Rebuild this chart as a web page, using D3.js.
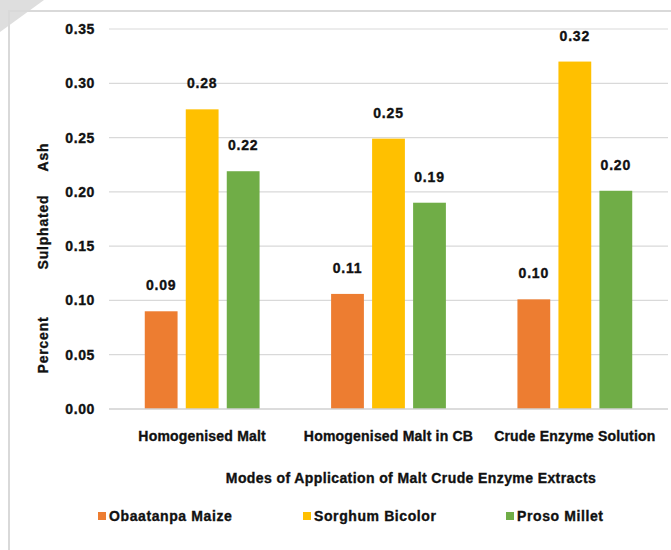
<!DOCTYPE html>
<html>
<head>
<meta charset="utf-8">
<script src="https://cdn.jsdelivr.net/npm/d3@7"></script>
<style>
  html, body { margin: 0; padding: 0; background: #fff; }
  svg text { font-family: "Liberation Sans", Arial, sans-serif; font-weight: bold; fill: #111; stroke: #111; stroke-width: 0.35px; }
</style>
</head>
<body>
<svg id="chart" width="671" height="550"></svg>
<script>
// Percent sulphated ash by mode of application of malt crude enzyme extracts
const categories = ["Homogenised Malt", "Homogenised Malt in CB", "Crude Enzyme Solution"];
const seriesNames = ["Obaatanpa Maize", "Sorghum Bicolor", "Proso Millet"];
const obaatanpaMaize = [0.09, 0.106, 0.101];
const sorghumBicolor = [0.276, 0.249, 0.32];
const prosoMillet = [0.219, 0.19, 0.201];
const yTicks = [0, 0.05, 0.10, 0.15, 0.20, 0.25, 0.30, 0.35];
const colors = ["#ED7D31", "#FFC000", "#70AD47"];

const seriesValues = [obaatanpaMaize, sorghumBicolor, prosoMillet];

const svg = d3.select("#chart");

// frame
svg.append("polygon").attr("points", "0,0 44,0 0,32").attr("fill", "#dedede");
svg.append("line").attr("x1", 9).attr("x2", 9).attr("y1", 10).attr("y2", 550)
  .attr("stroke", "#d9d9d9").attr("stroke-width", 2);
svg.append("line").attr("x1", 8).attr("x2", 671).attr("y1", 11).attr("y2", 11)
  .attr("stroke", "#d9d9d9").attr("stroke-width", 2);

const plot = { left: 109, right: 668, top: 29, bottom: 409 };

const x0 = d3.scaleBand().domain(categories).range([plot.left, plot.right]).padding(0);
const y = d3.scaleLinear().domain([0, 0.35]).range([plot.bottom, plot.top]);

// gridlines
svg.append("g").selectAll("line").data(yTicks.filter(t => t > 0)).join("line")
  .attr("x1", plot.left).attr("x2", plot.right)
  .attr("y1", d => y(d)).attr("y2", d => y(d))
  .attr("stroke", "#d9d9d9").attr("stroke-width", 1.2);

// y tick labels
svg.append("g").selectAll("text").data(yTicks).join("text")
  .attr("x", 95).attr("y", d => y(d) + 5)
  .attr("text-anchor", "end")
  .style("font-size", "14px")
  .style("letter-spacing", "0.6px")
  .text(d => d.toFixed(2));

// bars
const groups = svg.append("g").selectAll("g").data(categories).join("g");
groups.each(function(cat, ci) {
  const c = x0(cat) + x0.bandwidth() / 2;
  const x1 = d3.scaleBand().domain(seriesNames).range([c - 57.4, c + 57.4]).paddingInner(0.2).paddingOuter(0);
  const g = d3.select(this);
  seriesNames.forEach((s, si) => {
    const v = seriesValues[si][ci];
    g.append("rect")
      .attr("x", x1(s)).attr("width", x1.bandwidth())
      .attr("y", y(v)).attr("height", y(0) - y(v))
      .attr("fill", colors[si]);
    g.append("text")
      .attr("x", x1(s) + x1.bandwidth() / 2)
      .attr("y", y(v) - 21)
      .attr("text-anchor", "middle")
      .style("font-size", "14px")
      .style("letter-spacing", "0.8px")
      .text(v.toFixed(2));
  });
});

// baseline
svg.append("line").attr("x1", plot.left).attr("x2", plot.right)
  .attr("y1", y(0)).attr("y2", y(0))
  .attr("stroke", "#d0d0d0").attr("stroke-width", 1.5);

// category labels
svg.append("g").selectAll("text").data(categories).join("text")
  .attr("x", d => x0(d) + x0.bandwidth() / 2)
  .attr("y", 441)
  .attr("text-anchor", "middle")
  .style("font-size", "14px")
  .style("letter-spacing", "0.2px")
  .text(d => d);

// x axis title
svg.append("text")
  .attr("x", 411).attr("y", 483)
  .attr("text-anchor", "middle")
  .style("font-size", "14px")
  .style("letter-spacing", "0.4px")
  .text("Modes of Application of Malt Crude Enzyme Extracts");

// y axis title
const yTitle = [["Percent", 345], ["Sulphated", 232], ["Ash", 157]];
svg.append("g").selectAll("text").data(yTitle).join("text")
  .attr("transform", d => `translate(48,${d[1]}) rotate(-90)`)
  .attr("text-anchor", "middle")
  .style("font-size", "14px")
  .style("letter-spacing", "0.8px")
  .text(d => d[0]);

// legend
const legendX = [98, 303, 506];
const legend = svg.append("g").selectAll("g").data(seriesNames).join("g")
  .attr("transform", (d, i) => `translate(${legendX[i]},516)`);
legend.append("rect").attr("x", 0).attr("y", -4).attr("width", 8).attr("height", 8)
  .attr("fill", (d, i) => colors[i]);
legend.append("text").attr("x", 11).attr("y", 5)
  .style("font-size", "14px")
  .style("letter-spacing", "0.6px")
  .text(d => d);
</script>
</body>
</html>
